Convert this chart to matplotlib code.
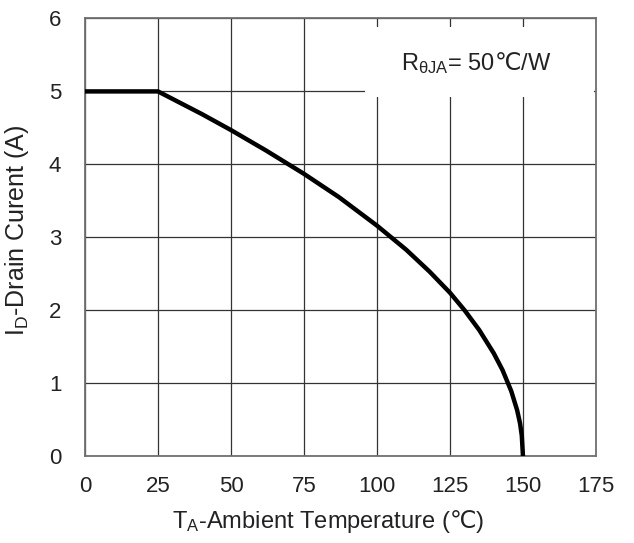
import matplotlib.pyplot as plt
from matplotlib.patches import Rectangle

plt.rcParams['font.family'] = ['Liberation Sans', 'DejaVu Sans']
plt.rcParams['mathtext.fontset'] = 'custom'
plt.rcParams['mathtext.rm'] = 'Liberation Sans'
plt.rcParams['mathtext.it'] = 'Liberation Sans'
plt.rcParams['mathtext.sf'] = 'DejaVu Sans'   # used only for the ℃ sign

# derating curve
temp_c = [0, 25, 40, 50, 62, 75, 87, 100, 110, 118, 125, 130, 135, 140,
          143, 146, 148, 149, 149.6, 150]
drain_a = [5.0, 5.0, 4.69, 4.47, 4.19, 3.87, 3.55, 3.16, 2.83, 2.53, 2.24,
           2.0, 1.73, 1.41, 1.18, 0.89, 0.63, 0.45, 0.28, 0.0]

x_ticks = [0, 25, 50, 75, 100, 125, 150, 175]
y_ticks = [0, 1, 2, 3, 4, 5, 6]

DEG = '$\\mathsf{℃}$'

fig = plt.figure(figsize=(6.34, 5.43), dpi=100)
ax = fig.add_axes([0.134, 0.160, 0.806, 0.806])

ax.plot(temp_c, drain_a, color='black', lw=3.2, solid_capstyle='butt', zorder=3)

ax.set_xlim(0, 175)
ax.set_ylim(0, 6)
ax.set_xticks(x_ticks)
ax.set_yticks(y_ticks)
ax.set_axisbelow(True)
ax.grid(True, color='#333333', lw=0.9)
ax.tick_params(length=0, labelsize=16, colors='#222222')
ax.tick_params(axis='x', pad=14)
ax.tick_params(axis='y', pad=17)
for s in ax.spines.values():
    s.set_color('#707070')
    s.set_linewidth(1.3)

# white patch behind the note, hiding the grid
ax.add_patch(Rectangle((95.8, 4.92), 78.7, 0.96, facecolor='white',
                       edgecolor='none', zorder=1))
ax.text(134, 5.39, 'R$_\\mathregular{θJA}$= 50' + DEG + '/W', fontsize=17,
        ha='center', va='center', color='#222222', zorder=4)

ax.set_xlabel('T$_\\mathregular{A}$-Ambient Temperature (' + DEG + ')',
              fontsize=17, color='#222222')
ax.xaxis.set_label_coords(0.475, -0.118)
ax.set_ylabel('I$_\\mathregular{D}$-Drain Curent (A)', fontsize=18,
              color='#222222')
ax.yaxis.set_label_coords(-0.105, 0.515)

fig.savefig('out.png', dpi=100, facecolor='white')
